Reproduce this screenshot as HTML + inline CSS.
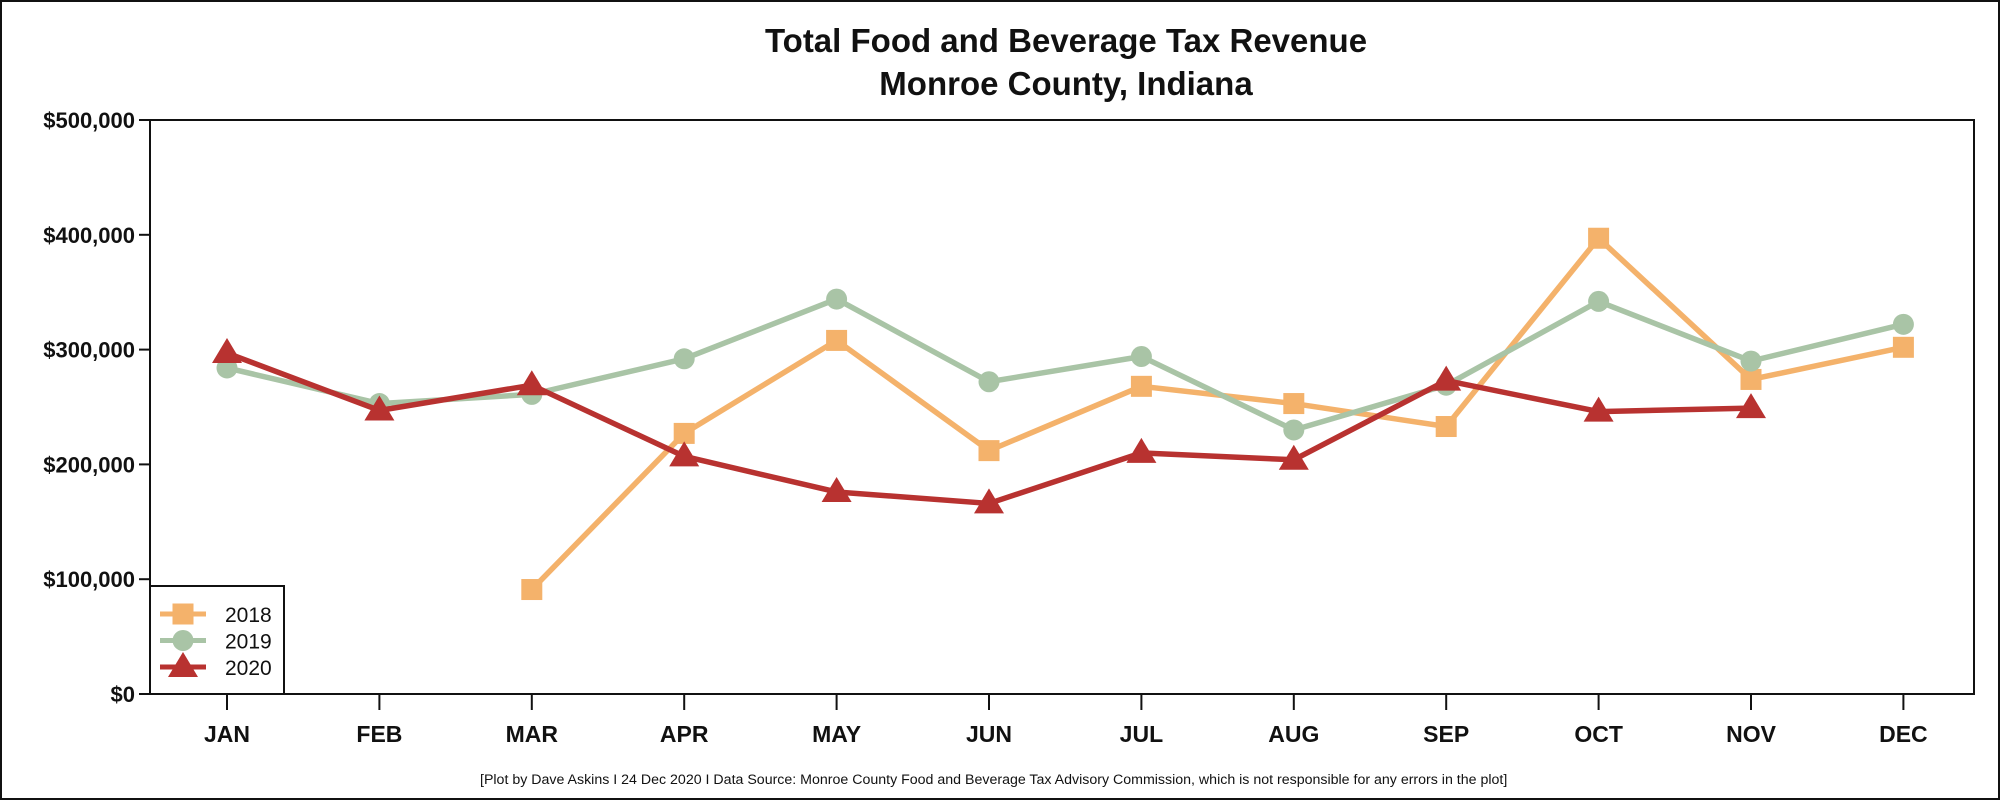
<!DOCTYPE html>
<html><head><meta charset="utf-8"><style>
html,body{margin:0;padding:0;background:#fff}
svg{display:block}
text{font-family:"Liberation Sans",Arial,sans-serif}
</style></head><body>
<svg id="chart" width="2000" height="800" viewBox="0 0 2000 800" xmlns="http://www.w3.org/2000/svg">
<rect x="1" y="1" width="1998" height="798" fill="#fff" stroke="#111" stroke-width="2"/>
<text x="1066" y="52" text-anchor="middle" font-size="33" font-weight="bold" fill="#111">Total Food and Beverage Tax Revenue</text>
<text x="1066" y="95" text-anchor="middle" font-size="33" font-weight="bold" fill="#111">Monroe County, Indiana</text>
<g id="axes"></g>
<g id="series"></g>
<g id="legend">
<rect x="150" y="586" width="134" height="108" fill="#fff" stroke="#111" stroke-width="2"/>
</g>
<text x="480" y="784" font-size="14.2" fill="#111">[Plot by Dave Askins I 24 Dec 2020 I Data Source: Monroe County Food and Beverage Tax Advisory Commission, which is not responsible for any errors in the plot]</text>
</svg>
<script>
const months = ["JAN","FEB","MAR","APR","MAY","JUN","JUL","AUG","SEP","OCT","NOV","DEC"];
const yTicks = [0,100000,200000,300000,400000,500000];
const yTickLabels = ["$0","$100,000","$200,000","$300,000","$400,000","$500,000"];
const seriesNames = ["2018","2019","2020"];
const values2018 = [null,null,91000,227000,308000,212000,268000,253000,233000,397000,274000,302000];
const values2019 = [284000,253000,261000,292000,344000,272000,294000,230000,269000,342000,290000,322000];
const values2020 = [297000,247000,269000,207000,176000,166000,210000,204000,273000,246000,249000,null];

const NS="http://www.w3.org/2000/svg";
const L=150,R=1974,T=120,B=694;
const x0=227,step=152.4;
function xs(i){return x0+i*step;}
function ys(v){return B-(v/500000)*(B-T);}
function mk(tag,attrs,parent){const e=document.createElementNS(NS,tag);for(const k in attrs)e.setAttribute(k,attrs[k]);parent.appendChild(e);return e;}
const axes=document.getElementById('axes');
const plot=mk('rect',{x:L,y:T,width:R-L,height:B-T,fill:'none',stroke:'#111','stroke-width':2},axes);


yTicks.forEach((v,i)=>{
  const t=mk('line',{x1:139,x2:L,y1:ys(v),y2:ys(v),stroke:'#111','stroke-width':2},axes);
  
  
  const lb=mk('text',{x:135,y:ys(v)+8,'text-anchor':'end','font-size':22,'font-weight':'bold',fill:'#111'},axes);
  lb.textContent=yTickLabels[i];
  
  
});
months.forEach((m,i)=>{
  const t=mk('line',{x1:xs(i),x2:xs(i),y1:B,y2:710,stroke:'#111','stroke-width':2},axes);
  
  
  const lb=mk('text',{x:xs(i),y:742,'text-anchor':'middle','font-size':23,'font-weight':'bold',fill:'#111'},axes);
  lb.textContent=m;
  
  
});
const colors=["#f4b26b","#a9c4a6","#b83230"];
const shapes=["square","circle","triangle"];
function marker(shape,cx,cy,color,parent){
  let e;
  if(shape==='square') e=mk('rect',{x:cx-10.5,y:cy-10.5,width:21,height:21,fill:color},parent);
  else if(shape==='circle') e=mk('circle',{cx:cx,cy:cy,r:10.5,fill:color},parent);
  else e=mk('polygon',{points:`${cx},${cy-15} ${cx-15},${cy+10} ${cx+15},${cy+10}`,fill:color},parent);
  return e;
}
const sg=document.getElementById('series');
[values2018,values2019,values2020].forEach((vals,s)=>{
  const g=mk('g',{},sg);
  
  
  const pts=[];
  vals.forEach((v,i)=>{if(v!==null)pts.push([xs(i),ys(v)]);});
  const pl=mk('polyline',{points:pts.map(p=>p.join(',')).join(' '),fill:'none',stroke:colors[s],'stroke-width':5.5,'stroke-linejoin':'round'},g);
  
  
  pts.forEach(p=>{
    const m=marker(shapes[s],p[0],p[1],colors[s],g);
    
    
  });
});
const lg=document.getElementById('legend');
seriesNames.forEach((n,s)=>{
  const cy=614+s*26.5;
  const ln=mk('line',{x1:160,x2:206,y1:cy,y2:cy,stroke:colors[s],'stroke-width':5},lg);
  
  
  const m=marker(shapes[s],183,cy,colors[s],lg);
  
  
  const t=mk('text',{x:225,y:cy+8,'font-size':21,fill:'#111'},lg);
  t.textContent=n;
  
  
});
</script>
</body></html>
